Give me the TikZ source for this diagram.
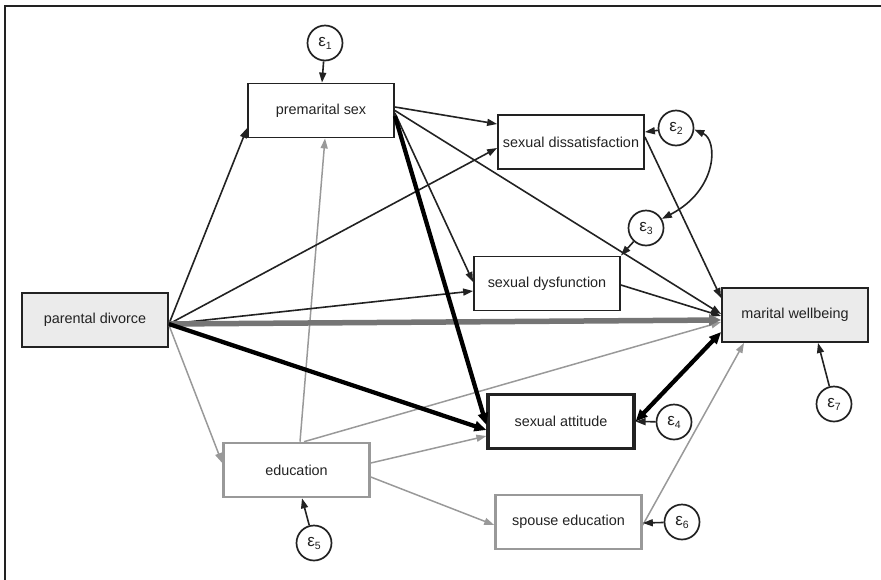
\documentclass[tikz,border=0pt]{standalone}
\usepackage{fontspec}
\setmainfont{Liberation Sans}
\usetikzlibrary{arrows.meta}
\definecolor{txt}{HTML}{222222}
\definecolor{lg}{HTML}{999999}
\definecolor{dg}{HTML}{757575}
\definecolor{fillg}{HTML}{EBEBEB}
\newcommand\epslab[1]{{\fontsize{17}{20}\selectfont ε}\raisebox{-3pt}{\fontsize{10.5}{12}\selectfont #1}}
\begin{document}
\begin{tikzpicture}[x=1pt,y=-1pt,
  box/.style={draw=txt,line width=1.8pt,minimum width=146pt,minimum height=54pt,inner sep=0pt,
    font=\fontsize{14.4}{17}\selectfont,text=txt},
  gbox/.style={box,draw=lg,line width=2.6pt},
  err/.style={circle,draw=txt,line width=1.7pt,minimum size=35pt,inner sep=0pt,text=txt},
  blk/.style={draw=txt,line width=1.6pt,-{Triangle[length=10pt,width=7pt]}},
  gry/.style={draw=lg,line width=1.5pt,-{Triangle[length=10pt,width=7pt]}},
  thk/.style={draw=black,line width=4.3pt,-{Triangle[length=12pt,width=10pt]}},
  thkg/.style={draw=dg,line width=5.5pt,-{Triangle[length=12pt,width=11pt]}}
]
\useasboundingbox (0,0) rectangle (881,579);
\draw[txt,line width=2.4pt] (5,580) -- (5,6) -- (882,6);

% boxes
\node[box,fill=fillg] (pd) at (95,320) {parental divorce};
\node[box] (ps) at (321,110.5) {premarital sex};
\node[box] (sdis) at (571,142) {sexual dissatisfaction};
\node[box] (sdys) at (547,283.5) {sexual dysfunction};
\node[box,fill=fillg] (mw) at (795,315) {marital wellbeing};
\node[box,line width=3.2pt] (sa) at (561,421.5) {sexual attitude};
\node[gbox] (edu) at (296.5,470) {education};
\node[gbox] (se) at (568.5,522) {spouse education};

% error terms
\node[err] (e1) at (325,43) {\epslab{1}};
\node[err] (e2) at (676,128) {\epslab{2}};
\node[err] (e3) at (646,228) {\epslab{3}};
\node[err] (e4) at (674,422) {\epslab{4}};
\node[err] (e5) at (314,543) {\epslab{5}};
\node[err] (e6) at (682,522) {\epslab{6}};
\node[err] (e7) at (834,404) {\epslab{7}};

\coordinate (pdo) at ([yshift=-4pt]pd.east);

% gray thin paths
\draw[gry] ([yshift=-5pt]pd.east) -- ([yshift=7pt]edu.west);
\draw[gry] ([xshift=3.5pt]edu.north) -- ([xshift=4pt]ps.south);
\draw[gry] ([xshift=7.5pt]edu.north) -- ([yshift=-7pt]mw.west);
\draw[gry] ([yshift=7pt]edu.east) -- ([yshift=-14.5pt]sa.west);
\draw[gry] ([yshift=-7pt]edu.east) -- ([yshift=-3pt]se.west);
\draw[gry] ([yshift=-3pt]se.east) -- ([xshift=-51pt]mw.south);

% black thin paths
\draw[blk] (pdo) -- ([yshift=-17.5pt]ps.west);
\draw[blk] (pdo) -- ([yshift=-6pt]sdis.west);
\draw[blk] (pdo) -- ([yshift=-7.5pt]sdys.west);
\draw[blk] ([yshift=3.5pt]ps.east) -- ([yshift=18pt]sdis.west);
\draw[blk] (ps.east) -- ([yshift=1pt]mw.west);
\draw[blk] ([yshift=-2.5pt]ps.east) -- ([yshift=1.5pt]sdys.west);
\draw[blk] ([yshift=5pt]sdis.east) -- ([yshift=17pt]mw.west);
\draw[blk] ([yshift=-1.5pt]sdys.east) -- ([yshift=-1pt]mw.west);

% thick paths
\draw[thkg] (pdo) -- ([yshift=-5pt]mw.west);
\draw[thk] (pdo) -- ([yshift=-8.5pt]sa.west);
\draw[thk] ([yshift=-5.5pt]ps.east) -- ([yshift=-3.5pt]sa.west);
\draw[thk,{Triangle[length=12pt,width=10pt]}-{Triangle[length=12pt,width=10pt]}] (sa.east) -- ([yshift=-17pt]mw.west);

% error arrows
\draw[blk] (e1) -- ([xshift=1pt]ps.north);
\draw[blk] (e2) -- ([yshift=10pt]sdis.east);
\draw[blk] (e3) -- (sdys.north east);
\draw[blk] (e4) -- (sa.east);
\draw[blk] (e5) -- ([xshift=5.5pt]edu.south);
\draw[blk] (e6) -- ([yshift=-1pt]se.east);
\draw[blk] (e7) -- ([xshift=23pt]mw.south);

% covariance
\draw[draw=txt,line width=1.6pt,{Triangle[length=10pt,width=7pt]}-{Triangle[length=10pt,width=7pt]}]
  (e2.-5) .. controls (718,140) and (718,190) .. (e3.30);
\end{tikzpicture}
\end{document}
